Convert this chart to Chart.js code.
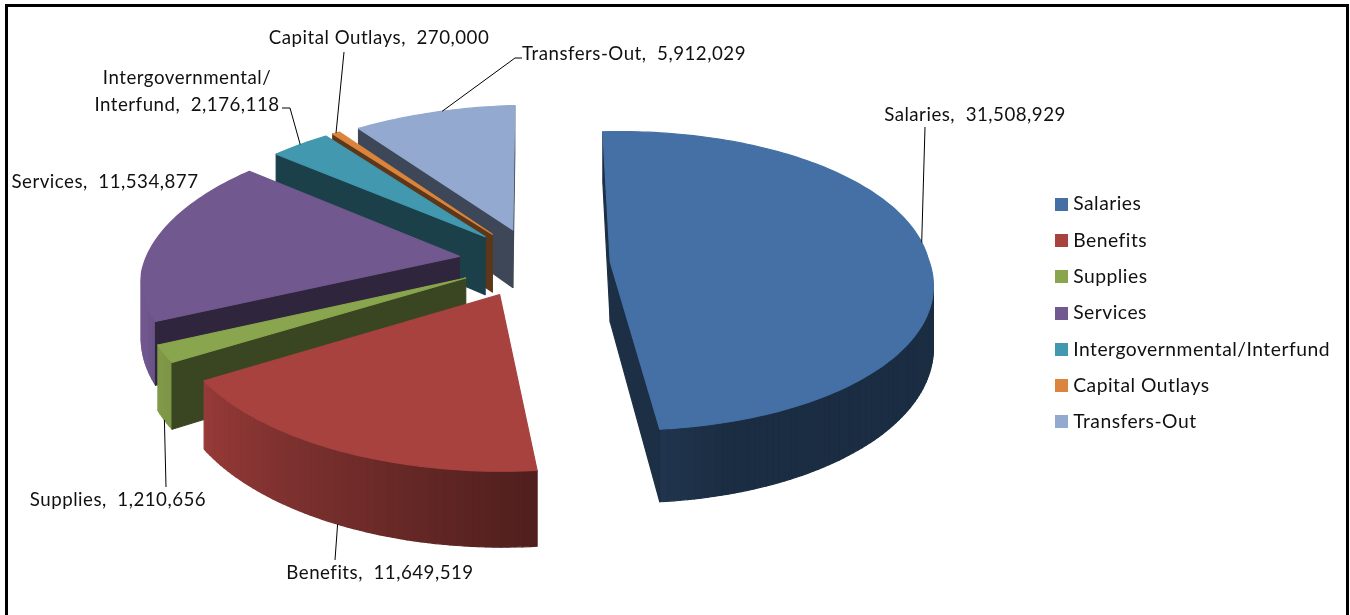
<!DOCTYPE html>
<html>
<head>
<meta charset="utf-8">
<script src="https://cdn.jsdelivr.net/npm/chart.js@4"></script>
<style>
  html, body { margin: 0; padding: 0; background: #fff; }
  #frame { position: absolute; left: 5px; top: 4px; width: 1344px; height: 611px;
           border: 3px solid #000; border-bottom: none; box-sizing: border-box; }
  #wrap { position: absolute; left: 0; top: 0; width: 1350px; height: 615px; }
</style>
</head>
<body>
<div id="wrap"><canvas id="budgetChart" width="1350" height="615"></canvas></div>
<div id="frame"></div>
<script>
  const categories = ['Salaries', 'Benefits', 'Supplies', 'Services', 'Intergovernmental/Interfund', 'Capital Outlays', 'Transfers-Out'];
  const amounts = [31508929, 11649519, 1210656, 11534877, 2176118, 270000, 5912029];
  const colors = ['#4470A5', '#A8423F', '#89A54E', '#71588F', '#4198AF', '#DB843D', '#93A9CF'];

  // where the data labels sit, and where along the slice rim the leader lands
  const labelSpots = [
    { x: 975, y: 115, from: [[925, 127]], along: 0.475, drop: 0 },
    { x: 380, y: 573, from: [[335, 560]], along: 0.5, drop: 1 },
    { x: 118, y: 500, from: [[166, 487]], along: 0.5, drop: 1 },
    { x: 105, y: 182 },
    { x: 187, y: 105, lineAbove: 'Intergovernmental/', name: 'Interfund', from: [[282, 108], [290, 108]], along: 0.5, drop: 0 },
    { x: 379, y: 38, from: [[344, 52]], along: 0.5, drop: 0 },
    { x: 634, y: 54, from: [[522, 58], [515, 58]], along: 0.55, drop: 0 }
  ];

  const font = 'Lato, Carlito, sans-serif';
  const view = { cx: 534, cy: 263, a: 318, b: 147.6, persp: 0.107, depth: 60, explode: 0.24, lean: -17, sag: 3, tilt: -7 };

  function project(angle, mid, radius, drop) {
    const rx = radius * Math.cos(angle);
    const X = rx + view.explode * Math.cos(mid);
    const Y = -(radius * Math.sin(angle) + view.explode * Math.sin(mid));
    const w = 1 + view.persp * Y;
    return [
      view.cx + (view.a * X + view.lean * Math.min(Y, 0)) / w,
      view.cy - view.b * Y / w + radius * view.sag + view.tilt * rx + drop * view.depth / Math.pow(w, 1.7)
    ];
  }

  function shade(hex, f) {
    const n = parseInt(hex.slice(1), 16);
    return 'rgb(' + [n >> 16, (n >> 8) & 255, n & 255].map(c => Math.round(c * f)).join(',') + ')';
  }

  function area(pts) {
    let s = 0;
    pts.forEach((p, i) => {
      const q = pts[(i + 1) % pts.length];
      s += p[0] * q[1] - q[0] * p[1];
    });
    return s;
  }

  function fillPoly(ctx, pts, color) {
    ctx.beginPath();
    pts.forEach((p, i) => (i ? ctx.lineTo(p[0], p[1]) : ctx.moveTo(p[0], p[1])));
    ctx.closePath();
    ctx.fillStyle = color;
    ctx.strokeStyle = color;
    ctx.lineWidth = 1.2;
    ctx.fill();
    ctx.stroke();
  }

  function drawSlice(ctx, arc, color) {
    const start = arc.startAngle, end = arc.endAngle, mid = (start + end) / 2;
    const steps = Math.max(2, Math.ceil((end - start) / 0.02));
    const rim = [];
    for (let i = 0; i <= steps; i++) rim.push(start + (end - start) * i / steps);

    // outer wall, lit from the left
    for (let i = 0; i < steps; i++) {
      const q = [project(rim[i], mid, 1, 0), project(rim[i + 1], mid, 1, 0), project(rim[i + 1], mid, 1, 1), project(rim[i], mid, 1, 1)];
      if (area(q) >= 0) continue;
      const deg = ((rim[i] + Math.PI / 2) * 180 / Math.PI);
      fillPoly(ctx, q, shade(color, Math.min(1, Math.max(0.4, 0.4 + (deg - 165) * 0.0065))));
    }

    // cut faces
    const faces = [[start, -1], [end, 1]];
    faces.forEach(([angle, sign]) => {
      const q = [project(0, mid, 0, 0), project(angle, mid, 1, 0), project(angle, mid, 1, 1), project(0, mid, 0, 1)];
      if (area(q) * sign > 0) fillPoly(ctx, q, shade(color, 0.42));
    });

    // top
    fillPoly(ctx, [project(0, mid, 0, 0)].concat(rim.map(r => project(r, mid, 1, 0))), color);
  }

  const pie3d = {
    id: 'pie3d',
    // setting the canvas size wipes the context state, so spacing goes on here
    beforeUpdate(chart) {
      chart.ctx.letterSpacing = '0.5px';
    },
    beforeDatasetsDraw(chart) {
      const ctx = chart.ctx;
      const arcs = chart.getDatasetMeta(0).data;
      const order = arcs.map((arc, i) => i).sort((p, q) => {
        const my = i => Math.sin((arcs[i].startAngle + arcs[i].endAngle) / 2);
        return my(p) - my(q);
      });
      ctx.save();
      ctx.lineJoin = 'round';
      order.forEach(i => drawSlice(ctx, arcs[i], colors[i]));
      ctx.restore();
      return false;
    },
    afterDraw(chart) {
      const ctx = chart.ctx;
      const arcs = chart.getDatasetMeta(0).data;
      ctx.save();
      ctx.font = '18.7px ' + font;
      ctx.fillStyle = '#111';
      ctx.textAlign = 'center';
      ctx.textBaseline = 'middle';
      labelSpots.forEach((spot, i) => {
        const name = spot.name || categories[i];
        ctx.fillText(name + ',  ' + amounts[i].toLocaleString('en-US'), spot.x, spot.y);
        if (spot.lineAbove) ctx.fillText(spot.lineAbove, spot.x, spot.y - 27);
        if (!spot.from) return;
        const arc = arcs[i], mid = (arc.startAngle + arc.endAngle) / 2;
        const tip = project(arc.startAngle + (arc.endAngle - arc.startAngle) * spot.along, mid, 1, spot.drop);
        ctx.beginPath();
        spot.from.forEach((p, k) => (k ? ctx.lineTo(p[0], p[1]) : ctx.moveTo(p[0], p[1])));
        ctx.lineTo(tip[0], tip[1]);
        ctx.strokeStyle = '#000';
        ctx.lineWidth = 1;
        ctx.stroke();
      });
      ctx.restore();
    }
  };

  function swatch(color) {
    const c = document.createElement('canvas');
    c.width = 13;
    c.height = 13;
    const g = c.getContext('2d');
    g.fillStyle = color;
    g.fillRect(0, 0, 13, 13);
    return c;
  }

  new Chart(document.getElementById('budgetChart'), {
    type: 'pie',
    data: {
      labels: categories,
      datasets: [{ data: amounts, backgroundColor: colors, borderWidth: 0 }]
    },
    plugins: [pie3d],
    options: {
      responsive: false,
      animation: false,
      layout: { padding: { top: 11, right: 10 } },
      plugins: {
        tooltip: { enabled: false },
        legend: {
          position: 'right',
          labels: {
            color: '#111',
            font: { family: font, size: 19.3 },
            padding: 17,
            usePointStyle: true,
            pointStyleWidth: 4,
            boxHeight: 13,
            generateLabels(chart) {
              return Chart.overrides.pie.plugins.legend.labels.generateLabels(chart)
                .map((item, i) => Object.assign(item, { pointStyle: swatch(colors[i]) }));
            }
          }
        }
      }
    }
  });
</script>
</body>
</html>
